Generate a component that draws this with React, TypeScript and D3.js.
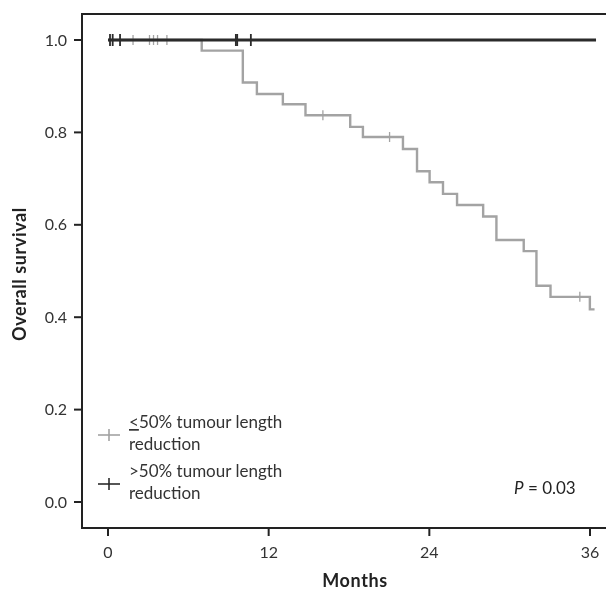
import React, { useRef, useEffect } from 'react';
import * as d3 from "d3";

// ≤50% tumour length reduction: event times (months) and survival after each step
const lowTimes = [0, 7.0, 10.07, 11.12, 13.06, 14.75, 18.09, 19.04, 22.03, 23.08, 24.02, 25.02, 26.07, 28.02, 29.01, 31.05, 32.0, 33.05, 35.99, 36.34];
const lowSurv = [1, 0.977, 0.908, 0.883, 0.861, 0.837, 0.812, 0.790, 0.764, 0.716, 0.692, 0.667, 0.643, 0.618, 0.567, 0.543, 0.468, 0.444, 0.417, 0.417];
const lowCensorTimes = [1.87, 3.1, 3.4, 3.7, 4.4, 16.05, 21.03, 35.24];
const lowCensorSurv = [1, 1, 1, 1, 1, 0.837, 0.790, 0.444];

// >50% tumour length reduction
const highTimes = [0, 36.45];
const highSurv = [1, 1];
const highCensorTimes = [0.15, 0.35, 0.9, 9.55, 9.65, 10.67];
const highCensorSurv = [1, 1, 1, 1, 1, 1];

const xTicks = [0, 12, 24, 36];
const yTicks = [0, 0.2, 0.4, 0.6, 0.8, 1.0];

export default function App() {
    const svgRef = useRef<SVGSVGElement>(null);

    useEffect(() => {
        const width = 606, height = 590;
        const font = "Lato, 'Open Sans', sans-serif";
        const gray = "#a3a3a3", dark = "#2b2b2b", textCol = "#333";

        const x = d3.scaleLinear().domain([0, 36]).range([108, 590]);
        const y = d3.scaleLinear().domain([0, 1]).range([502, 40]);

        const svg = d3.select(svgRef.current)
            .attr("width", width)
            .attr("height", height);
        svg.selectAll("*").remove();

        const left = 82, top = 14, bottom = 528, right = 606;

        // frame
        svg.append("path")
            .attr("d", `M${right},${top}H${left}V${bottom}H${right}`)
            .attr("fill", "none")
            .attr("stroke", "#222")
            .attr("stroke-width", 2);

        // y axis ticks
        const yAxis = svg.append("g").attr("font-family", font).attr("font-size", 16).attr("fill", textCol);
        yTicks.forEach(t => {
            yAxis.append("line").attr("x1", left - 8).attr("x2", left).attr("y1", y(t)).attr("y2", y(t))
                .attr("stroke", "#222").attr("stroke-width", 2);
            yAxis.append("text").attr("x", left - 15).attr("y", y(t)).attr("dy", "0.35em")
                .attr("text-anchor", "end").text(t.toFixed(1));
        });

        // x axis ticks
        const xAxis = svg.append("g").attr("font-family", font).attr("font-size", 16).attr("fill", textCol);
        xTicks.forEach(t => {
            xAxis.append("line").attr("x1", x(t)).attr("x2", x(t)).attr("y1", bottom).attr("y2", bottom + 8)
                .attr("stroke", "#222").attr("stroke-width", 2);
            xAxis.append("text").attr("x", x(t)).attr("y", bottom + 30)
                .attr("text-anchor", "middle").text(t);
        });

        // axis titles
        svg.append("text")
            .attr("transform", `translate(26,274) rotate(-90)`)
            .attr("text-anchor", "middle")
            .attr("font-family", font).attr("font-size", 18).attr("font-weight", "bold")
            .attr("letter-spacing", 0.6)
            .attr("fill", "#222")
            .text("Overall survival");
        svg.append("text")
            .attr("x", 355).attr("y", 587)
            .attr("text-anchor", "middle")
            .attr("font-family", font).attr("font-size", 18).attr("font-weight", "bold")
            .attr("letter-spacing", 0.6)
            .attr("fill", "#222")
            .text("Months");

        const line = d3.line<[number, number]>()
            .x(d => x(d[0])).y(d => y(d[1]))
            .curve(d3.curveStepAfter);

        const lowData = lowTimes.map((t, i) => [t, lowSurv[i]] as [number, number]);
        const highData = highTimes.map((t, i) => [t, highSurv[i]] as [number, number]);

        svg.append("path").attr("d", line(lowData)).attr("fill", "none")
            .attr("stroke", gray).attr("stroke-width", 2.4);

        lowCensorTimes.forEach((t, i) => {
            svg.append("line").attr("x1", x(t)).attr("x2", x(t))
                .attr("y1", y(lowCensorSurv[i]) - 5).attr("y2", y(lowCensorSurv[i]) + 5)
                .attr("stroke", gray).attr("stroke-width", 1.3);
        });

        svg.append("path").attr("d", line(highData)).attr("fill", "none")
            .attr("stroke", dark).attr("stroke-width", 2.8);

        highCensorTimes.forEach((t, i) => {
            svg.append("line").attr("x1", x(t)).attr("x2", x(t))
                .attr("y1", y(highCensorSurv[i]) - 6).attr("y2", y(highCensorSurv[i]) + 6)
                .attr("stroke", dark).attr("stroke-width", 1.8);
        });

        // legend
        const legend = svg.append("g").attr("font-family", font).attr("font-size", 17).attr("fill", textCol);
        const items = [
            { col: gray, y: 435, lines: ["<50% tumour length", "reduction"], underline: true },
            { col: dark, y: 484, lines: [">50% tumour length", "reduction"], underline: false }
        ];
        items.forEach(it => {
            legend.append("line").attr("x1", 98).attr("x2", 120).attr("y1", it.y).attr("y2", it.y)
                .attr("stroke", it.col).attr("stroke-width", 1.6);
            legend.append("line").attr("x1", 109).attr("x2", 109).attr("y1", it.y - 6).attr("y2", it.y + 6)
                .attr("stroke", it.col).attr("stroke-width", 1.6);
            const t1 = legend.append("text").attr("x", 129).attr("y", it.y - 7);
            if (it.underline) {
                t1.append("tspan").attr("text-decoration", "underline").text(it.lines[0].slice(0, 1));
                t1.append("tspan").text(it.lines[0].slice(1));
            } else {
                t1.text(it.lines[0]);
            }
            legend.append("text").attr("x", 129).attr("y", it.y + 15).text(it.lines[1]);
        });

        // p value
        const p = svg.append("text").attr("x", 514).attr("y", 494)
            .attr("font-family", font).attr("font-size", 17).attr("fill", "#222");
        p.append("tspan").attr("font-style", "italic").text("P");
        p.append("tspan").text(" = 0.03");
    }, []);

    return (
        <div style={{ position: "fixed", left: 0, top: 0 }}>
            <svg ref={svgRef} style={{ display: "block" }}></svg>
        </div>
    );
}
